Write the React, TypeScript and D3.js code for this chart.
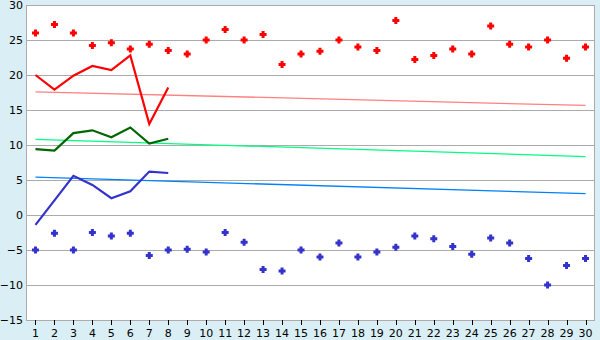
import React from "react";
import * as d3 from "d3";

const days = d3.range(1, 31).map(String);
const highPoints = [26.0, 27.2, 26.0, 24.2, 24.6, 23.7, 24.4, 23.5, 23.0, 25.0, 26.5, 25.0, 25.8, 21.5, 23.0, 23.4, 25.0, 24.0, 23.5, 27.8, 22.2, 22.8, 23.7, 23.0, 27.0, 24.4, 24.0, 25.0, 22.4, 24.0];
const lowPoints = [-5.0, -2.6, -5.0, -2.5, -3.0, -2.6, -5.8, -5.0, -4.9, -5.3, -2.5, -3.9, -7.8, -8.0, -5.0, -6.0, -4.0, -6.0, -5.3, -4.6, -3.0, -3.4, -4.5, -5.6, -3.3, -4.0, -6.2, -10.0, -7.2, -6.2];
const redLine = [20.0, 17.9, 19.9, 21.3, 20.7, 22.8, 13.0, 18.2];
const greenLine = [9.4, 9.2, 11.7, 12.1, 11.1, 12.5, 10.2, 10.9];
const blueLine = [-1.4, 2.1, 5.6, 4.3, 2.4, 3.4, 6.2, 6.0];
const redTrend = [17.6, 15.65];
const greenTrend = [10.8, 8.35];
const blueTrend = [5.4, 3.05];
const yTicks = [30, 25, 20, 15, 10, 5, 0, -5, -10, -15];

const W = 600, H = 340;
const L = 26, R = 595, T = 5, B = 320;

const plusType = {
  draw(ctx: any, _size: number) {
    const a = 1.5, e = 3.5;
    ctx.moveTo(-a, -e);
    ctx.lineTo(a, -e);
    ctx.lineTo(a, -a);
    ctx.lineTo(e, -a);
    ctx.lineTo(e, a);
    ctx.lineTo(a, a);
    ctx.lineTo(a, e);
    ctx.lineTo(-a, e);
    ctx.lineTo(-a, a);
    ctx.lineTo(-e, a);
    ctx.lineTo(-e, -a);
    ctx.lineTo(-a, -a);
    ctx.closePath();
  },
};

export default function App() {
  const x = d3.scaleBand<string>().domain(days).range([L, R]);
  const cx = (i: number) => (x(days[i]) as number) + x.bandwidth() / 2;
  const y = d3.scaleLinear().domain([-15, 30]).range([B, T]);
  const line = d3.line<number>().x((_, i) => cx(i)).y((d) => y(d));
  const trendLine = (v: number[]) =>
    d3.line<number>().x((_, i) => (i === 0 ? cx(0) : cx(days.length - 1))).y((d) => y(d))(v) as string;
  const marker = d3.symbol().type(plusType as any)() as string;
  const font = "'DejaVu Sans', Verdana, sans-serif";

  return (
    <svg width={W} height={H} style={{ position: "absolute", left: 0, top: 0 }}>
      <rect x={0} y={0} width={W} height={H} fill="#DAEFF5" />
      <rect x={L} y={T} width={R - L} height={B - T} fill="#ffffff" />
      {yTicks.map((t) => (
        <line key={"g" + t} x1={L} x2={R} y1={Math.round(y(t)) + 0.5} y2={Math.round(y(t)) + 0.5} stroke="#ABABAB" strokeWidth={1} />
      ))}
      <rect x={L + 0.5} y={T + 0.5} width={R - L - 1} height={B - T} fill="none" stroke="#ABABAB" strokeWidth={1} />
      {yTicks.map((t) => (
        <text key={"yl" + t} x={23} y={y(t)} dy="0.36em" textAnchor="end" fontFamily={font} fontSize={11} fill="#000">
          {t < 0 ? "\u2212" + Math.abs(t) : t}
        </text>
      ))}
      {days.map((d, i) => (
        <g key={"xt" + d}>
          <line x1={Math.round(cx(i)) + 0.5} x2={Math.round(cx(i)) + 0.5} y1={B} y2={B + 5} stroke="#000" strokeWidth={1} />
          <text x={cx(i)} y={337} textAnchor="middle" fontFamily={font} fontSize={11} fill="#000">
            {d}
          </text>
        </g>
      ))}
      <path d={trendLine(redTrend)} fill="none" stroke="#FF8080" strokeWidth={1.3} />
      <path d={trendLine(greenTrend)} fill="none" stroke="#00FF80" strokeWidth={1.3} />
      <path d={trendLine(blueTrend)} fill="none" stroke="#0080FF" strokeWidth={1.3} />
      <path d={line(redLine) as string} fill="none" stroke="#FF0000" strokeWidth={2.2} />
      <path d={line(greenLine) as string} fill="none" stroke="#006600" strokeWidth={2.2} />
      <path d={line(blueLine) as string} fill="none" stroke="#3333CC" strokeWidth={2.2} />
      {highPoints.map((v, i) => (
        <path key={"h" + i} d={marker} transform={`translate(${cx(i)},${y(v)})`} fill="#FF0000" />
      ))}
      {lowPoints.map((v, i) => (
        <path key={"l" + i} d={marker} transform={`translate(${cx(i)},${y(v)})`} fill="#3333CC" />
      ))}
    </svg>
  );
}
